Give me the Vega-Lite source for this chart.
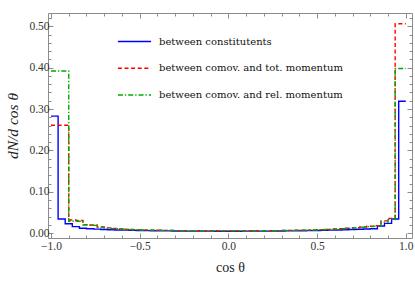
{
  "$schema": "https://vega.github.io/schema/vega-lite/v6.json",
  "width": 364,
  "height": 225,
  "autosize": {"type": "none"},
  "padding": {"left": 48, "top": 13, "right": 3, "bottom": 43},
  "background": "white",
  "config": {
    "view": {"stroke": "#8c8c8c", "strokeWidth": 1},
    "axis": {"domain": false, "grid": false, "labelFont": "Liberation Serif", "labelFontSize": 11.5, "labelColor": "#333", "tickColor": "#8c8c8c", "tickWidth": 1, "titleFont": "Liberation Serif", "titleColor": "#222", "titleFontWeight": "normal"}
  },
  "datasets": {
    "hist": [
      {"series": "between constitutents", "x": -1.00, "y": 0.283},
      {"series": "between constitutents", "x": -0.96, "y": 0.0345},
      {"series": "between constitutents", "x": -0.92, "y": 0.023},
      {"series": "between constitutents", "x": -0.88, "y": 0.016},
      {"series": "between constitutents", "x": -0.84, "y": 0.012},
      {"series": "between constitutents", "x": -0.80, "y": 0.011},
      {"series": "between constitutents", "x": -0.76, "y": 0.010},
      {"series": "between constitutents", "x": -0.72, "y": 0.0092},
      {"series": "between constitutents", "x": -0.68, "y": 0.0086},
      {"series": "between constitutents", "x": -0.64, "y": 0.0080},
      {"series": "between constitutents", "x": -0.60, "y": 0.0075},
      {"series": "between constitutents", "x": -0.56, "y": 0.0071},
      {"series": "between constitutents", "x": -0.52, "y": 0.0067},
      {"series": "between constitutents", "x": -0.48, "y": 0.0064},
      {"series": "between constitutents", "x": -0.44, "y": 0.0061},
      {"series": "between constitutents", "x": -0.40, "y": 0.0059},
      {"series": "between constitutents", "x": -0.36, "y": 0.0057},
      {"series": "between constitutents", "x": -0.32, "y": 0.0055},
      {"series": "between constitutents", "x": -0.28, "y": 0.0054},
      {"series": "between constitutents", "x": -0.24, "y": 0.0053},
      {"series": "between constitutents", "x": -0.20, "y": 0.0052},
      {"series": "between constitutents", "x": -0.16, "y": 0.0051},
      {"series": "between constitutents", "x": -0.12, "y": 0.0051},
      {"series": "between constitutents", "x": -0.08, "y": 0.0050},
      {"series": "between constitutents", "x": -0.04, "y": 0.0050},
      {"series": "between constitutents", "x": 0.00, "y": 0.0050},
      {"series": "between constitutents", "x": 0.04, "y": 0.0050},
      {"series": "between constitutents", "x": 0.08, "y": 0.0051},
      {"series": "between constitutents", "x": 0.12, "y": 0.0051},
      {"series": "between constitutents", "x": 0.16, "y": 0.0052},
      {"series": "between constitutents", "x": 0.20, "y": 0.0053},
      {"series": "between constitutents", "x": 0.24, "y": 0.0054},
      {"series": "between constitutents", "x": 0.28, "y": 0.0055},
      {"series": "between constitutents", "x": 0.32, "y": 0.0057},
      {"series": "between constitutents", "x": 0.36, "y": 0.0059},
      {"series": "between constitutents", "x": 0.40, "y": 0.0061},
      {"series": "between constitutents", "x": 0.44, "y": 0.0064},
      {"series": "between constitutents", "x": 0.48, "y": 0.0067},
      {"series": "between constitutents", "x": 0.52, "y": 0.0071},
      {"series": "between constitutents", "x": 0.56, "y": 0.0075},
      {"series": "between constitutents", "x": 0.60, "y": 0.0080},
      {"series": "between constitutents", "x": 0.64, "y": 0.0085},
      {"series": "between constitutents", "x": 0.68, "y": 0.0090},
      {"series": "between constitutents", "x": 0.72, "y": 0.0096},
      {"series": "between constitutents", "x": 0.76, "y": 0.0102},
      {"series": "between constitutents", "x": 0.80, "y": 0.0108},
      {"series": "between constitutents", "x": 0.84, "y": 0.0176},
      {"series": "between constitutents", "x": 0.88, "y": 0.024},
      {"series": "between constitutents", "x": 0.92, "y": 0.0345},
      {"series": "between constitutents", "x": 0.96, "y": 0.319},
      {"series": "between constitutents", "x": 1.00, "y": 0.319},

      {"series": "between comov. and tot. momentum", "x": -1.00, "y": 0.261},
      {"series": "between comov. and tot. momentum", "x": -0.90, "y": 0.032},
      {"series": "between comov. and tot. momentum", "x": -0.86, "y": 0.031},
      {"series": "between comov. and tot. momentum", "x": -0.82, "y": 0.021},
      {"series": "between comov. and tot. momentum", "x": -0.78, "y": 0.020},
      {"series": "between comov. and tot. momentum", "x": -0.74, "y": 0.015},
      {"series": "between comov. and tot. momentum", "x": -0.70, "y": 0.013},
      {"series": "between comov. and tot. momentum", "x": -0.66, "y": 0.0115},
      {"series": "between comov. and tot. momentum", "x": -0.62, "y": 0.0105},
      {"series": "between comov. and tot. momentum", "x": -0.58, "y": 0.0095},
      {"series": "between comov. and tot. momentum", "x": -0.54, "y": 0.0088},
      {"series": "between comov. and tot. momentum", "x": -0.50, "y": 0.0082},
      {"series": "between comov. and tot. momentum", "x": -0.46, "y": 0.0077},
      {"series": "between comov. and tot. momentum", "x": -0.42, "y": 0.0073},
      {"series": "between comov. and tot. momentum", "x": -0.38, "y": 0.0070},
      {"series": "between comov. and tot. momentum", "x": -0.34, "y": 0.0067},
      {"series": "between comov. and tot. momentum", "x": -0.30, "y": 0.0065},
      {"series": "between comov. and tot. momentum", "x": -0.26, "y": 0.0063},
      {"series": "between comov. and tot. momentum", "x": -0.22, "y": 0.0062},
      {"series": "between comov. and tot. momentum", "x": -0.18, "y": 0.0061},
      {"series": "between comov. and tot. momentum", "x": -0.14, "y": 0.0060},
      {"series": "between comov. and tot. momentum", "x": -0.10, "y": 0.0060},
      {"series": "between comov. and tot. momentum", "x": -0.06, "y": 0.0059},
      {"series": "between comov. and tot. momentum", "x": -0.02, "y": 0.0059},
      {"series": "between comov. and tot. momentum", "x": 0.02, "y": 0.0059},
      {"series": "between comov. and tot. momentum", "x": 0.06, "y": 0.0060},
      {"series": "between comov. and tot. momentum", "x": 0.10, "y": 0.0060},
      {"series": "between comov. and tot. momentum", "x": 0.14, "y": 0.0061},
      {"series": "between comov. and tot. momentum", "x": 0.18, "y": 0.0062},
      {"series": "between comov. and tot. momentum", "x": 0.22, "y": 0.0063},
      {"series": "between comov. and tot. momentum", "x": 0.26, "y": 0.0065},
      {"series": "between comov. and tot. momentum", "x": 0.30, "y": 0.0067},
      {"series": "between comov. and tot. momentum", "x": 0.34, "y": 0.0070},
      {"series": "between comov. and tot. momentum", "x": 0.38, "y": 0.0073},
      {"series": "between comov. and tot. momentum", "x": 0.42, "y": 0.0077},
      {"series": "between comov. and tot. momentum", "x": 0.46, "y": 0.0082},
      {"series": "between comov. and tot. momentum", "x": 0.50, "y": 0.0088},
      {"series": "between comov. and tot. momentum", "x": 0.54, "y": 0.0095},
      {"series": "between comov. and tot. momentum", "x": 0.58, "y": 0.0102},
      {"series": "between comov. and tot. momentum", "x": 0.62, "y": 0.0110},
      {"series": "between comov. and tot. momentum", "x": 0.66, "y": 0.0120},
      {"series": "between comov. and tot. momentum", "x": 0.70, "y": 0.0135},
      {"series": "between comov. and tot. momentum", "x": 0.74, "y": 0.0150},
      {"series": "between comov. and tot. momentum", "x": 0.78, "y": 0.0170},
      {"series": "between comov. and tot. momentum", "x": 0.82, "y": 0.0185},
      {"series": "between comov. and tot. momentum", "x": 0.86, "y": 0.030},
      {"series": "between comov. and tot. momentum", "x": 0.90, "y": 0.036},
      {"series": "between comov. and tot. momentum", "x": 0.94, "y": 0.506},
      {"series": "between comov. and tot. momentum", "x": 1.00, "y": 0.506},

      {"series": "between comov. and rel. momentum", "x": -1.00, "y": 0.392},
      {"series": "between comov. and rel. momentum", "x": -0.90, "y": 0.029},
      {"series": "between comov. and rel. momentum", "x": -0.86, "y": 0.029},
      {"series": "between comov. and rel. momentum", "x": -0.82, "y": 0.020},
      {"series": "between comov. and rel. momentum", "x": -0.78, "y": 0.019},
      {"series": "between comov. and rel. momentum", "x": -0.74, "y": 0.014},
      {"series": "between comov. and rel. momentum", "x": -0.70, "y": 0.0125},
      {"series": "between comov. and rel. momentum", "x": -0.66, "y": 0.0112},
      {"series": "between comov. and rel. momentum", "x": -0.62, "y": 0.0102},
      {"series": "between comov. and rel. momentum", "x": -0.58, "y": 0.0093},
      {"series": "between comov. and rel. momentum", "x": -0.54, "y": 0.0086},
      {"series": "between comov. and rel. momentum", "x": -0.50, "y": 0.0080},
      {"series": "between comov. and rel. momentum", "x": -0.46, "y": 0.0076},
      {"series": "between comov. and rel. momentum", "x": -0.42, "y": 0.0072},
      {"series": "between comov. and rel. momentum", "x": -0.38, "y": 0.0069},
      {"series": "between comov. and rel. momentum", "x": -0.34, "y": 0.0066},
      {"series": "between comov. and rel. momentum", "x": -0.30, "y": 0.0064},
      {"series": "between comov. and rel. momentum", "x": -0.26, "y": 0.0062},
      {"series": "between comov. and rel. momentum", "x": -0.22, "y": 0.0061},
      {"series": "between comov. and rel. momentum", "x": -0.18, "y": 0.0060},
      {"series": "between comov. and rel. momentum", "x": -0.14, "y": 0.0059},
      {"series": "between comov. and rel. momentum", "x": -0.10, "y": 0.0059},
      {"series": "between comov. and rel. momentum", "x": -0.06, "y": 0.0058},
      {"series": "between comov. and rel. momentum", "x": -0.02, "y": 0.0058},
      {"series": "between comov. and rel. momentum", "x": 0.02, "y": 0.0058},
      {"series": "between comov. and rel. momentum", "x": 0.06, "y": 0.0059},
      {"series": "between comov. and rel. momentum", "x": 0.10, "y": 0.0059},
      {"series": "between comov. and rel. momentum", "x": 0.14, "y": 0.0060},
      {"series": "between comov. and rel. momentum", "x": 0.18, "y": 0.0061},
      {"series": "between comov. and rel. momentum", "x": 0.22, "y": 0.0062},
      {"series": "between comov. and rel. momentum", "x": 0.26, "y": 0.0064},
      {"series": "between comov. and rel. momentum", "x": 0.30, "y": 0.0066},
      {"series": "between comov. and rel. momentum", "x": 0.34, "y": 0.0069},
      {"series": "between comov. and rel. momentum", "x": 0.38, "y": 0.0072},
      {"series": "between comov. and rel. momentum", "x": 0.42, "y": 0.0076},
      {"series": "between comov. and rel. momentum", "x": 0.46, "y": 0.0080},
      {"series": "between comov. and rel. momentum", "x": 0.50, "y": 0.0086},
      {"series": "between comov. and rel. momentum", "x": 0.54, "y": 0.0093},
      {"series": "between comov. and rel. momentum", "x": 0.58, "y": 0.0100},
      {"series": "between comov. and rel. momentum", "x": 0.62, "y": 0.0108},
      {"series": "between comov. and rel. momentum", "x": 0.66, "y": 0.0117},
      {"series": "between comov. and rel. momentum", "x": 0.70, "y": 0.0130},
      {"series": "between comov. and rel. momentum", "x": 0.74, "y": 0.0145},
      {"series": "between comov. and rel. momentum", "x": 0.78, "y": 0.0160},
      {"series": "between comov. and rel. momentum", "x": 0.82, "y": 0.0172},
      {"series": "between comov. and rel. momentum", "x": 0.86, "y": 0.027},
      {"series": "between comov. and rel. momentum", "x": 0.90, "y": 0.033},
      {"series": "between comov. and rel. momentum", "x": 0.94, "y": 0.398},
      {"series": "between comov. and rel. momentum", "x": 1.00, "y": 0.398}
    ]
  },
  "data": {"name": "hist"},
  "layer": [
    {
      "mark": {"type": "line", "interpolate": "step-after", "strokeWidth": 1.4, "clip": true},
      "encoding": {
        "x": {
          "field": "x", "type": "quantitative",
          "scale": {"domain": [-1.017, 1.035], "nice": false, "zero": false},
          "axis": {
            "orient": "bottom",
            "values": [-1.0, -0.9, -0.8, -0.7, -0.6, -0.5, -0.4, -0.3, -0.2, -0.1, 0.0, 0.1, 0.2, 0.3, 0.4, 0.5, 0.6, 0.7, 0.8, 0.9, 1.0],
            "labelExpr": "abs(datum.value*2 - round(datum.value*2)) < 0.001 ? format(datum.value, '.1f') : ''",
            "tickSize": {"condition": {"test": "abs(datum.value*2 - round(datum.value*2)) < 0.001", "value": -5}, "value": -3},
            "labelPadding": 7,
            "labelFlush": false,
            "labelOverlap": false,
            "title": "cos θ",
            "titleFontSize": 14,
            "titlePadding": 7
          }
        },
        "y": {
          "field": "y", "type": "quantitative",
          "scale": {"domain": [-0.0114, 0.532], "nice": false, "zero": false},
          "axis": {
            "orient": "left",
            "values": [0, 0.02, 0.04, 0.06, 0.08, 0.1, 0.12, 0.14, 0.16, 0.18, 0.2, 0.22, 0.24, 0.26, 0.28, 0.3, 0.32, 0.34, 0.36, 0.38, 0.4, 0.42, 0.44, 0.46, 0.48, 0.5, 0.52],
            "labelExpr": "abs(datum.value*10 - round(datum.value*10)) < 0.001 ? format(datum.value, '.2f') : ''",
            "tickSize": {"condition": {"test": "abs(datum.value*10 - round(datum.value*10)) < 0.001", "value": -5}, "value": -3},
            "labelPadding": 4,
            "labelFlush": false,
            "labelOverlap": false,
            "title": "dN/d cos θ",
            "titleFontSize": 15.5,
            "titleFontStyle": "italic",
            "titlePadding": 8
          }
        },
        "color": {
          "field": "series", "type": "nominal",
          "scale": {"domain": ["between constitutents", "between comov. and tot. momentum", "between comov. and rel. momentum"], "range": ["#0000ff", "#ff0000", "#00aa00"]},
          "legend": {
            "orient": "none", "legendX": 69, "legendY": 11, "title": null,
            "symbolType": "stroke", "symbolSize": 1100, "symbolStrokeWidth": 1.5,
            "labelFont": "DejaVu Serif", "labelFontSize": 10, "labelColor": "#111",
            "rowPadding": 3.7, "labelOffset": 7, "labelLimit": 300
          }
        },
        "strokeDash": {
          "field": "series", "type": "nominal",
          "scale": {"domain": ["between constitutents", "between comov. and tot. momentum", "between comov. and rel. momentum"], "range": [[1, 0], [4, 2.6], [5, 2, 1.3, 2]]},
          "legend": {
            "orient": "none", "legendX": 69, "legendY": 11, "title": null,
            "symbolType": "stroke", "symbolSize": 1100, "symbolStrokeWidth": 1.5,
            "labelFont": "DejaVu Serif", "labelFontSize": 10, "labelColor": "#111",
            "rowPadding": 3.7, "labelOffset": 7, "labelLimit": 300
          }
        }
      }
    },
    {
      "mark": {"type": "line", "strokeOpacity": 0},
      "encoding": {
        "x": {
          "field": "x", "type": "quantitative",
          "axis": {
            "orient": "top",
            "values": [-1.0, -0.9, -0.8, -0.7, -0.6, -0.5, -0.4, -0.3, -0.2, -0.1, 0.0, 0.1, 0.2, 0.3, 0.4, 0.5, 0.6, 0.7, 0.8, 0.9, 1.0],
            "labels": false,
            "tickSize": {"condition": {"test": "abs(datum.value*2 - round(datum.value*2)) < 0.001", "value": -5}, "value": -3},
            "title": null
          }
        },
        "y": {
          "field": "y", "type": "quantitative",
          "axis": {
            "orient": "right",
            "values": [0, 0.02, 0.04, 0.06, 0.08, 0.1, 0.12, 0.14, 0.16, 0.18, 0.2, 0.22, 0.24, 0.26, 0.28, 0.3, 0.32, 0.34, 0.36, 0.38, 0.4, 0.42, 0.44, 0.46, 0.48, 0.5, 0.52],
            "labels": false,
            "tickSize": {"condition": {"test": "abs(datum.value*10 - round(datum.value*10)) < 0.001", "value": -5}, "value": -3},
            "title": null
          }
        },
        "detail": {"field": "series", "type": "nominal"}
      }
    }
  ],
  "resolve": {"axis": {"x": "independent", "y": "independent"}}
}
